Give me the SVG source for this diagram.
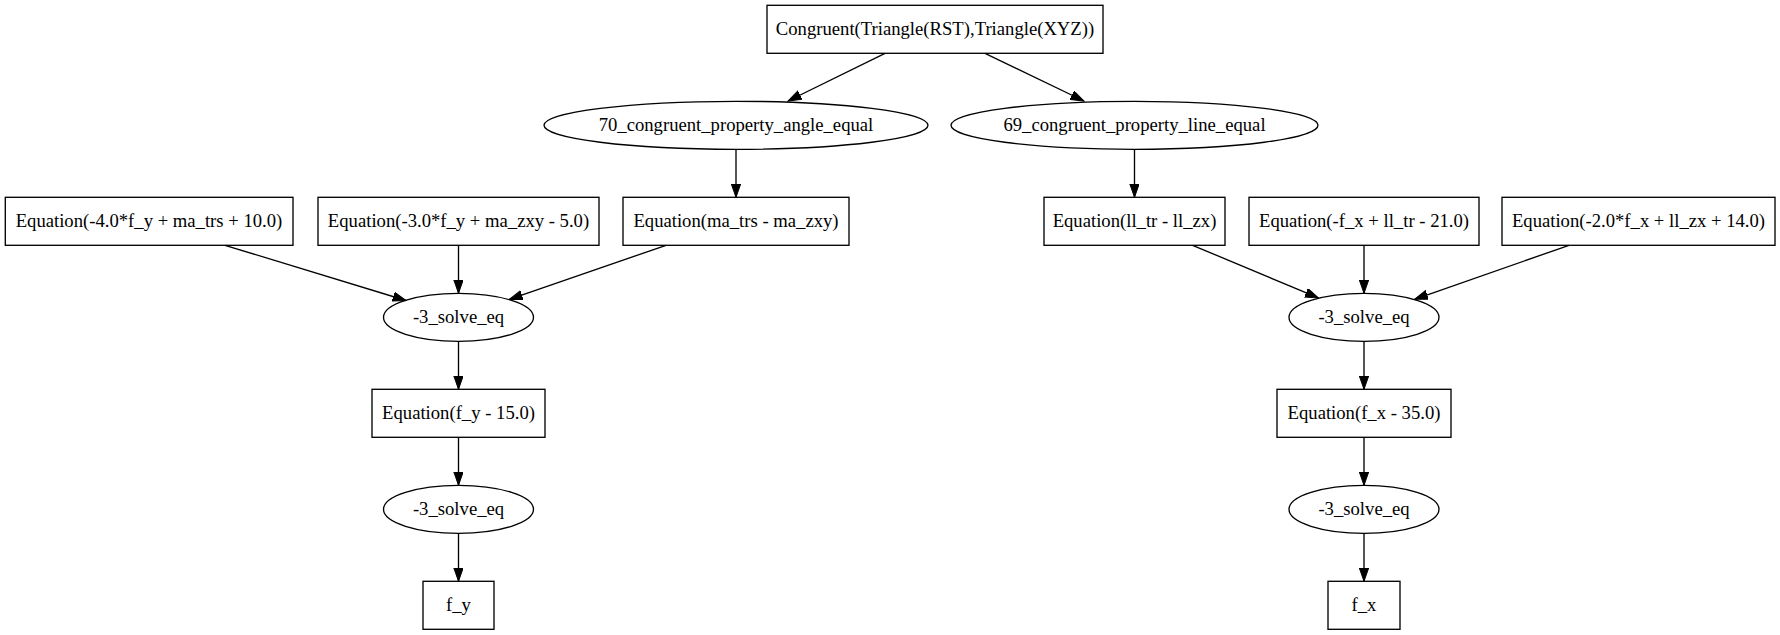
<svg xmlns="http://www.w3.org/2000/svg" width="1780" height="635" viewBox="0 0 1780 635">
<style>
.n rect, .n ellipse { fill: none; stroke: #000; stroke-width: 1.33; }
.n text { font-family: "Liberation Serif", "Times New Roman", serif; font-size: 18.67px; text-anchor: middle; fill: #000; }
.e path { fill: none; stroke: #000; stroke-width: 1.33; marker-end: url(#ah); }
</style>
<defs>
<marker id="ah" markerUnits="userSpaceOnUse" markerWidth="14" markerHeight="10" refX="13.3" refY="4.67" orient="auto">
<polygon points="0,0 13.3,4.67 0,9.33" fill="#000" stroke="#000" stroke-width="1"/>
</marker>
</defs>
<rect width="1780" height="635" fill="#fff"/>
<g id="edges" class="e">
<path d="M885,53.3 L788,101"/>
<path d="M985,53.3 L1084,101"/>
<path d="M736,149.3 L736,197.3"/>
<path d="M1134.5,149.3 L1134.5,197.3"/>
<path d="M225,245.3 L406,300.5"/>
<path d="M458.5,245.3 L458.5,293.3"/>
<path d="M666,245.3 L509.4,299.4"/>
<path d="M1192.6,245.3 L1318.4,297.9"/>
<path d="M1364,245.3 L1364,293.3"/>
<path d="M1569,245.3 L1414.6,299.3"/>
<path d="M458.5,341.3 L458.5,389.3"/>
<path d="M458.5,437.3 L458.5,485.3"/>
<path d="M458.5,533.3 L458.5,581.3"/>
<path d="M1364,341.3 L1364,389.3"/>
<path d="M1364,437.3 L1364,485.3"/>
<path d="M1364,533.3 L1364,581.3"/>
</g>
<g id="n_top" class="n"><rect x="767" y="5.3" width="336" height="48"/><text x="935" y="35.3">Congruent(Triangle(RST),Triangle(XYZ))</text></g>
<g id="n_70" class="n"><ellipse cx="736" cy="125.3" rx="192" ry="24"/><text x="736" y="131.3">70_congruent_property_angle_equal</text></g>
<g id="n_69" class="n"><ellipse cx="1134.5" cy="125.3" rx="183.5" ry="24"/><text x="1134.5" y="131.3">69_congruent_property_line_equal</text></g>
<g id="n_eq1" class="n"><rect x="5.3" y="197.3" width="287.7" height="48"/><text x="149" y="227.3">Equation(-4.0*f_y + ma_trs + 10.0)</text></g>
<g id="n_eq2" class="n"><rect x="318" y="197.3" width="281" height="48"/><text x="458.5" y="227.3">Equation(-3.0*f_y + ma_zxy - 5.0)</text></g>
<g id="n_eq3" class="n"><rect x="623" y="197.3" width="226" height="48"/><text x="736" y="227.3">Equation(ma_trs - ma_zxy)</text></g>
<g id="n_eq4" class="n"><rect x="1044" y="197.3" width="181" height="48"/><text x="1134.5" y="227.3">Equation(ll_tr - ll_zx)</text></g>
<g id="n_eq5" class="n"><rect x="1249" y="197.3" width="230" height="48"/><text x="1364" y="227.3">Equation(-f_x + ll_tr - 21.0)</text></g>
<g id="n_eq6" class="n"><rect x="1502" y="197.3" width="273" height="48"/><text x="1638.5" y="227.3">Equation(-2.0*f_x + ll_zx + 14.0)</text></g>
<g id="n_s1" class="n"><ellipse cx="458.5" cy="317.3" rx="75" ry="24"/><text x="458.5" y="323.3">-3_solve_eq</text></g>
<g id="n_s2" class="n"><ellipse cx="1364" cy="317.3" rx="75" ry="24"/><text x="1364" y="323.3">-3_solve_eq</text></g>
<g id="n_fy_eq" class="n"><rect x="372" y="389.3" width="173" height="48"/><text x="458.5" y="419.3">Equation(f_y - 15.0)</text></g>
<g id="n_fx_eq" class="n"><rect x="1277" y="389.3" width="174" height="48"/><text x="1364" y="419.3">Equation(f_x - 35.0)</text></g>
<g id="n_s3" class="n"><ellipse cx="458.5" cy="509.3" rx="75" ry="24"/><text x="458.5" y="515.3">-3_solve_eq</text></g>
<g id="n_s4" class="n"><ellipse cx="1364" cy="509.3" rx="75" ry="24"/><text x="1364" y="515.3">-3_solve_eq</text></g>
<g id="n_fy" class="n"><rect x="423" y="581.3" width="71" height="48"/><text x="458.5" y="611.3">f_y</text></g>
<g id="n_fx" class="n"><rect x="1328" y="581.3" width="72" height="48"/><text x="1364" y="611.3">f_x</text></g>
</svg>
